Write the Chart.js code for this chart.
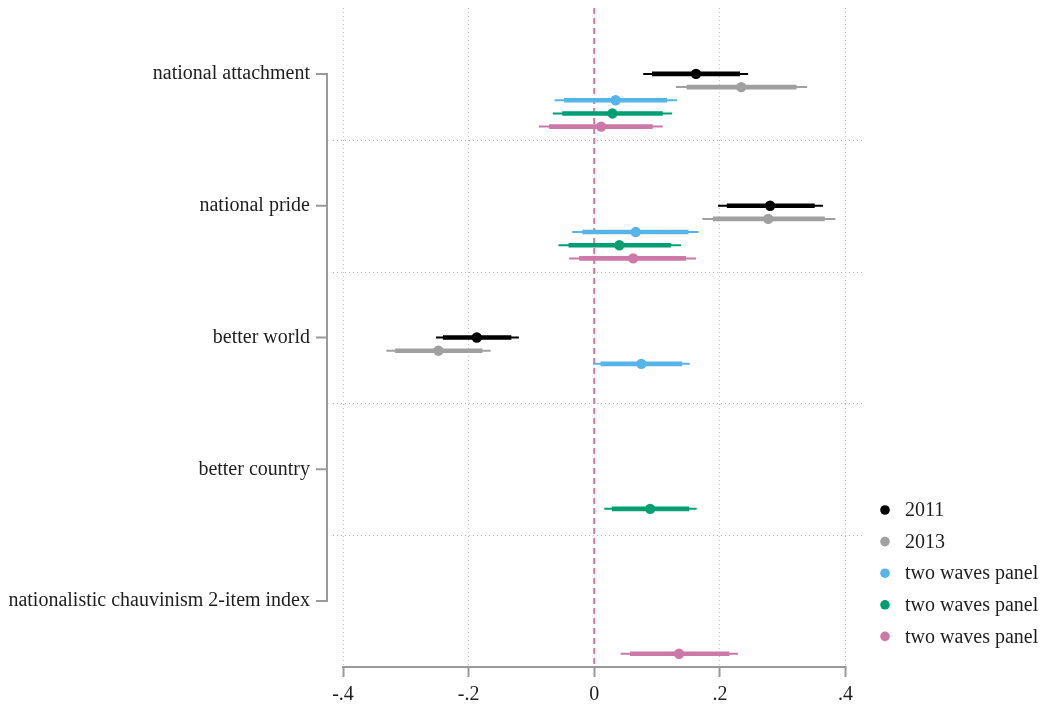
<!DOCTYPE html>
<html>
<head>
<meta charset="utf-8">
<script src="https://cdn.jsdelivr.net/npm/chart.js@4.4.1/dist/chart.umd.min.js"></script>
<style>
  html, body { margin: 0; padding: 0; background: #ffffff; }
  #wrap { width: 1042px; height: 704px; position: relative; }
</style>
</head>
<body>
<div id="wrap"><canvas id="coefplot"></canvas></div>
<script>
// Outcomes, one row each on the vertical axis
const categories = [
  'national attachment',
  'national pride',
  'better world',
  'better country',
  'nationalistic chauvinism 2-item index'
];

// Model series
const seriesLabels = ['2011', '2013', 'two waves panel', 'two waves panel', 'two waves panel'];
const seriesColors = ['#000000', '#a0a0a0', '#56b4e9', '#009e73', '#cc79a7'];

// Horizontal axis ticks
const xTickValues = [-0.4, -0.2, 0, 0.2, 0.4];
const xTickLabels = ['-.4', '-.2', '0', '.2', '.4'];

// Coefficients: one row per series, one column per outcome (null = not estimated)
const estimates = [
  [0.162, 0.280, -0.187, null, null],
  [0.234, 0.277, -0.248, null, null],
  [0.034, 0.066, 0.075, null, null],
  [0.029, 0.040, null, 0.089, null],
  [0.011, 0.062, null, null, 0.135]
];

// 95% confidence bounds
const lower95 = [
  [0.078, 0.197, -0.252, null, null],
  [0.130, 0.172, -0.331, null, null],
  [-0.063, -0.035, -0.002, null, null],
  [-0.066, -0.057, null, 0.016, null],
  [-0.088, -0.040, null, null, 0.042]
];
const upper95 = [
  [0.245, 0.364, -0.120, null, null],
  [0.339, 0.384, -0.165, null, null],
  [0.132, 0.166, 0.152, null, null],
  [0.124, 0.138, null, 0.163, null],
  [0.109, 0.162, null, null, 0.229]
];

// 90% confidence bounds
const lower90 = [
  [0.092, 0.211, -0.241, null, null],
  [0.147, 0.189, -0.317, null, null],
  [-0.048, -0.019, 0.010, null, null],
  [-0.051, -0.041, null, 0.028, null],
  [-0.072, -0.024, null, null, 0.057]
];
const upper90 = [
  [0.232, 0.351, -0.132, null, null],
  [0.322, 0.367, -0.178, null, null],
  [0.116, 0.150, 0.140, null, null],
  [0.109, 0.122, null, 0.151, null],
  [0.093, 0.146, null, null, 0.215]
];

// vertical step between series inside one outcome row
const rowStep = 0.1;
const FONT = '"Liberation Serif", "Times New Roman", serif';
const TEXT = '#1e1e1e';
const AXIS = '#9a9a9a';

function rowY(cat, s) { return cat + s * rowStep; }

function intervalPoints(lo, hi, s) {
  const pts = [];
  categories.forEach((_, i) => {
    if (estimates[s][i] === null) return;
    const y = rowY(i, s);
    pts.push({ x: lo[s][i], y: y }, { x: hi[s][i], y: y }, { x: NaN, y: null });
  });
  return pts;
}

function estimatePoints(s) {
  const pts = [];
  categories.forEach((_, i) => {
    if (estimates[s][i] === null) return;
    pts.push({ x: estimates[s][i], y: rowY(i, s) });
  });
  return pts;
}

const datasets = [];
seriesLabels.forEach((label, s) => {
  const color = seriesColors[s];
  datasets.push({
    label: label + ' 95%', data: intervalPoints(lower95, upper95, s),
    showLine: true, borderColor: color, borderWidth: 2, pointRadius: 0,
    borderCapStyle: 'butt', order: 3
  });
  datasets.push({
    label: label + ' 90%', data: intervalPoints(lower90, upper90, s),
    showLine: true, borderColor: color, borderWidth: 4.6, pointRadius: 0,
    borderCapStyle: 'butt', order: 2
  });
  datasets.push({
    label: label, data: estimatePoints(s),
    pointRadius: 5.2, pointBackgroundColor: color, pointBorderWidth: 0,
    backgroundColor: color, borderColor: color, order: 1
  });
});

// reference line at zero
datasets.push({
  label: 'zero', data: [{ x: 0, y: -0.5 }, { x: 0, y: 4.5 }],
  showLine: true, borderColor: '#cc79a7', borderWidth: 2, borderDash: [6, 4],
  pointRadius: 0, order: 4
});

// separators between outcomes, y axis spine with ticks, x axis spine, key
const frame = {
  id: 'frame',
  beforeDatasetsDraw(chart) {
    const { ctx, scales: { x, y } } = chart;
    ctx.save();
    ctx.strokeStyle = '#b4b4b4';
    ctx.lineWidth = 1;
    ctx.setLineDash([1, 3]);
    const xl = x.getPixelForValue(-0.4) - 10;
    const xr = x.getPixelForValue(0.4) + 17;
    for (let i = 0; i < categories.length - 1; i++) {
      const py = Math.round(y.getPixelForValue(i + 0.5)) + 0.5;
      ctx.beginPath(); ctx.moveTo(xl, py); ctx.lineTo(xr, py); ctx.stroke();
    }
    ctx.restore();
  },
  afterDraw(chart) {
    const { ctx, scales: { x, y }, chartArea } = chart;
    ctx.save();
    ctx.strokeStyle = AXIS;
    ctx.lineWidth = 2;
    ctx.setLineDash([]);
    // y spine
    const sx = chartArea.left - 16;
    const y0 = y.getPixelForValue(0);
    const y1 = y.getPixelForValue(categories.length - 1);
    ctx.beginPath();
    ctx.moveTo(sx, y0 - 1); ctx.lineTo(sx, y1 + 1);
    categories.forEach((_, i) => {
      const py = y.getPixelForValue(i);
      ctx.moveTo(sx - 11, py); ctx.lineTo(sx + 1, py);
    });
    ctx.stroke();
    // x spine
    const by = chartArea.bottom;
    ctx.beginPath();
    ctx.moveTo(x.getPixelForValue(-0.4) - 1, by);
    ctx.lineTo(x.getPixelForValue(0.4) + 1, by);
    ctx.stroke();

    // key
    ctx.font = '20px ' + FONT;
    ctx.textBaseline = 'middle';
    ctx.textAlign = 'left';
    seriesLabels.forEach((label, s) => {
      const ly = 510 + s * 31.6;
      ctx.fillStyle = seriesColors[s];
      ctx.beginPath(); ctx.arc(885, ly, 4.8, 0, Math.PI * 2); ctx.fill();
      ctx.fillStyle = TEXT;
      ctx.fillText(label, 905, ly + 1);
    });
    ctx.restore();
  }
};

new Chart(document.getElementById('coefplot'), {
  type: 'scatter',
  data: { datasets: datasets },
  options: {
    responsive: true,
    maintainAspectRatio: false,
    animation: false,
    events: [],
    layout: { padding: { left: 0, top: 8, right: 172, bottom: 0 } },
    plugins: { legend: { display: false }, tooltip: { enabled: false } },
    scales: {
      x: {
        type: 'linear',
        min: -0.4,
        max: 0.439,
        afterBuildTicks(scale) { scale.ticks = xTickValues.map(v => ({ value: v })); },
        afterFit(scale) {
          scale.height = 37;
          scale.paddingLeft = 0;
          scale.paddingRight = 0;
        },
        border: { display: false, dash: [1, 3] },
        grid: {
          color: ctx => (ctx.tick && ctx.tick.value === 0) ? 'rgba(0,0,0,0)' : '#c4c4c4',
          lineWidth: 1,
          drawTicks: true,
          tickLength: 10,
          tickColor: AXIS,
          tickWidth: 2,
          tickBorderDash: []
        },
        ticks: {
          autoSkip: false,
          maxRotation: 0,
          padding: 6,
          color: TEXT,
          font: { family: FONT, size: 20 },
          callback: (v) => {
            const k = xTickValues.findIndex(t => Math.abs(t - v) < 1e-9);
            return k >= 0 ? xTickLabels[k] : '';
          }
        }
      },
      y: {
        type: 'linear',
        reverse: true,
        min: -0.5,
        max: 4.5,
        afterBuildTicks(scale) { scale.ticks = categories.map((_, i) => ({ value: i })); },
        afterFit(scale) {
          scale.width = 343;
          scale.paddingTop = 0;
          scale.paddingBottom = 0;
        },
        border: { display: false },
        grid: { display: false, drawTicks: false },
        ticks: {
          autoSkip: false,
          padding: 33,
          color: TEXT,
          font: { family: FONT, size: 20 },
          callback: (v) => categories[v] !== undefined ? categories[v] : ''
        }
      }
    }
  },
  plugins: [frame]
});
</script>
</body>
</html>
